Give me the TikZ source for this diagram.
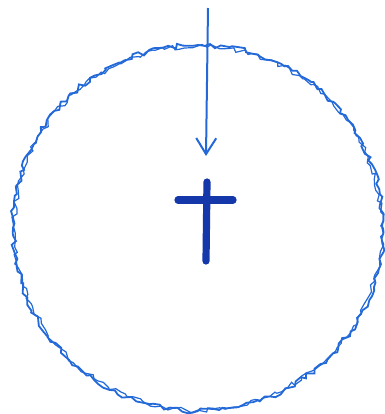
\documentclass[tikz,border=0pt]{standalone}
\usepackage{tikz}
\usetikzlibrary{arrows.meta,decorations.pathmorphing}

\definecolor{penblue}{RGB}{35,105,215}
\definecolor{inkblue}{RGB}{20,55,170}

\begin{document}
\begin{tikzpicture}[x=0.5pt, y=-0.5pt, >={Straight Barb[length=8pt, width=10pt]},
  scribble/.style={penblue, line width=0.9pt, decorate, decoration={random steps, segment length=2.5pt, amplitude=1.3pt}},
  marker/.style={inkblue, line width=3.6pt, line cap=round}]
	\useasboundingbox (0,0) rectangle (385,414);
	\pgfmathsetseed{7}
	\coordinate (centre) at (198,228);
	\coordinate (start) at (208,8);
	\coordinate (tip) at (206,156);
	% wobbly outline, gone over twice
	\draw[scribble] (centre) ellipse [x radius=185, y radius=183];
	\draw[scribble, line width=0.6pt] (centre) ellipse [x radius=184, y radius=182];
	\draw[->, penblue, line width=1pt] (start) -- (tip);
	% the cross
	\draw[marker] (207,182) -- (206,261);
	\draw[marker] (178,200) -- (233,200);
\end{tikzpicture}
\end{document}
